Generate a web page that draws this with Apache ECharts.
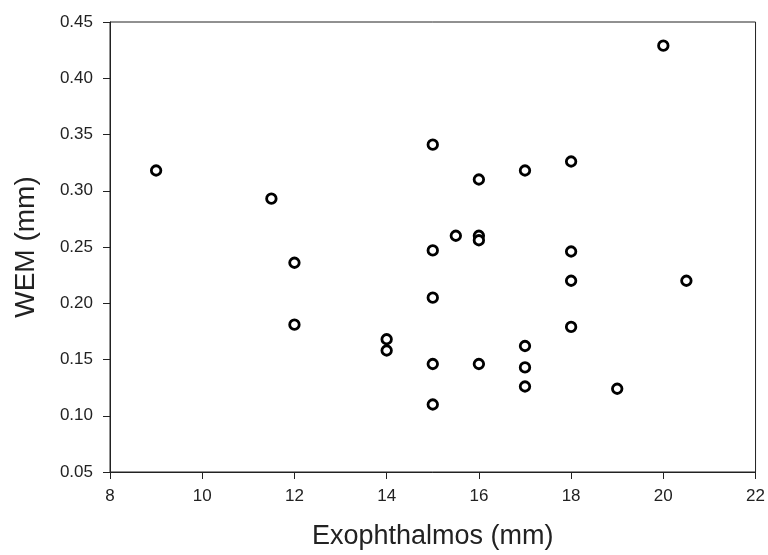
<!DOCTYPE html>
<html><head><meta charset="utf-8">
<script src="https://cdn.jsdelivr.net/npm/echarts@6/dist/echarts.min.js"></script>
<style>html,body{margin:0;padding:0;background:#fff}#c{width:768px;height:555px}</style>
</head><body><div id="c"></div>
<script>
var exophthalmos = [9, 11.5, 12, 12, 14, 14, 15, 15, 15, 15, 15, 15.5, 16, 16, 16, 16, 17, 17, 17, 17, 18, 18, 18, 18, 19, 20, 20.5];
var wem = [0.318, 0.293, 0.236, 0.181, 0.168, 0.158, 0.341, 0.247, 0.205, 0.146, 0.110, 0.260, 0.310, 0.260, 0.256, 0.146, 0.318, 0.162, 0.143, 0.126, 0.326, 0.246, 0.220, 0.179, 0.124, 0.429, 0.220];
var xTitle = 'Exophthalmos (mm)';
var yTitle = 'WEM (mm)';

var pts = exophthalmos.map(function (x, i) { return [x, wem[i]]; });
var chart = echarts.init(document.getElementById('c'));
var font = '"Liberation Sans", Arial, sans-serif';
chart.setOption({
  animation: false,
  grid: { left: 110, right: 9, top: 22, bottom: 78, show: true, borderColor: '#222', borderWidth: 1, backgroundColor: 'transparent' },
  xAxis: {
    type: 'value', min: 8, max: 22, interval: 2,
    name: xTitle, nameLocation: 'middle', nameGap: 51,
    nameTextStyle: { fontFamily: font, fontSize: 27, color: '#222' },
    axisLine: { onZero: false, lineStyle: { color: '#222', width: 1 } },
    axisTick: { show: true, inside: false, length: 7, lineStyle: { color: '#222' } },
    axisLabel: { fontFamily: font, fontSize: 17, color: '#222', margin: 16 },
    splitLine: { show: false }
  },
  yAxis: {
    type: 'value', min: 0.05, max: 0.45, interval: 0.05,
    name: yTitle, nameLocation: 'middle', nameGap: 70,
    nameTextStyle: { fontFamily: font, fontSize: 28, color: '#222' },
    axisLine: { onZero: false, lineStyle: { color: '#222', width: 1 } },
    axisTick: { show: true, inside: false, length: 7, lineStyle: { color: '#222' } },
    axisLabel: { fontFamily: font, fontSize: 17, color: '#222', margin: 17, formatter: function (v) { return v.toFixed(2); } },
    splitLine: { show: false }
  },
  series: [{
    type: 'scatter', data: pts, symbol: 'circle', symbolSize: 9.5,
    itemStyle: { color: '#fff', borderColor: '#000', borderWidth: 2.8, opacity: 1 }
  }]
});
</script></body></html>
